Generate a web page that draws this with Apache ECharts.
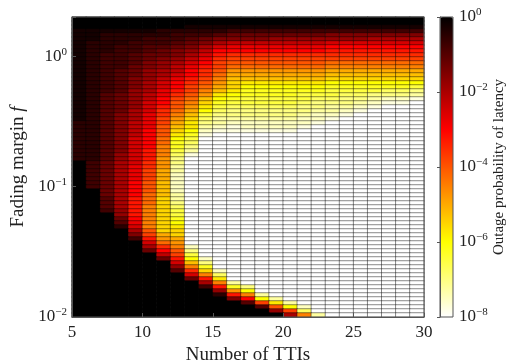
<!DOCTYPE html>
<html>
<head>
<meta charset="utf-8">
<script src="https://cdn.jsdelivr.net/npm/echarts@6/dist/echarts.min.js"></script>
<style>
    html, body { margin: 0; padding: 0; background: #fff; }
    #chart { width: 508px; height: 362px; }
</style>
</head>
<body>
<div id="chart"></div>
<script>
//横轴：TTI个数（每列一格）
var ttis = [5, 6, 7, 8, 9, 10, 11, 12, 13, 14, 15, 16, 17, 18, 19, 20, 21, 22, 23, 24, 25, 26, 27, 28, 29];

//纵轴：衰落余量f的范围（对数轴，行在对数上等距）
var fRange = [0.01, 2];

//色条范围：log10(中断概率)
var probRange = [-8, 0];

//每行一串字符，自上(f=2)而下(f=0.01)；每个字符 = -log10(p)*4，36进制（0 -> 1，w -> 1e-8）
//空格只用来分开前11列和后14列，方便核对
var outageRows = [
    "00000000000 00000000000000",
    "00000000000 00000000000000",
    "00000000111 11111111111111",
    "11111122222 33333333333333",
    "11222223334 55555556666666",
    "11222333456 66677777778888",
    "12223334568 9999999aaaaaaa",
    "1223344568a bbbbbbbccccccc",
    "1223345679c cccccccddddddd",
    "123345568ad eeeeeeeeeeeeee",
    "123345679be ffffffffffffff",
    "12334678acf ggggggghhhhhhh",
    "12335679bdf hhhhhhhiiiiiii",
    "12345789ceg jjjjjjjkkkkkkk",
    "1234578aceh kkkkkkklllllll",
    "1234679bdfi lllllllmmmmmmm",
    "123468acegj mnnnnnnooooooo",
    "123468acfhk mooooooppppppq",
    "123478bdfil nppppppqqqqrrs",
    "124579begjn oppppqqqrrssst",
    "124579cfhlo pqqqqqrrsstuuv",
    "12457acgimp qqqqqrssstuvvw",
    "12457adgjnq rrrrrssttuvwww",
    "12458aehkor ssssssttuvwwww",
    "12468beilqs ssssstuuvwwwww",
    "12468bfjmrt tttttuuvwwwwww",
    "22469bfknst uuuuuuvwwwwwww",
    "22469bglntu vuuuuvwwwwwwww",
    "22469cgmouv vvvvvwwwwwwwww",
    "22469cgnpvw wwwwwwwwwwwwww",
    "2246achoqww wwwwwwwwwwwwww",
    "2246achprww wwwwwwwwwwwwww",
    "2246acipsww wwwwwwwwwwwwww",
    "2246adiqtww wwwwwwwwwwwwww",
    "2247adirvww wwwwwwwwwwwwww",
    "2247adjswww wwwwwwwwwwwwww",
    "0358aejswww wwwwwwwwwwwwww",
    "0358bejtwww wwwwwwwwwwwwww",
    "0358bfktwww wwwwwwwwwwwwww",
    "0358bfkuwww wwwwwwwwwwwwww",
    "0358bfkuwww wwwwwwwwwwwwww",
    "0358cgluwww wwwwwwwwwwwwww",
    "0358cgluwww wwwwwwwwwwwwww",
    "0058cgluwww wwwwwwwwwwwwww",
    "0058chltwww wwwwwwwwwwwwww",
    "0048dhmtwww wwwwwwwwwwwwww",
    "0048dhmswww wwwwwwwwwwwwww",
    "0048dimrwww wwwwwwwwwwwwww",
    "0037dimqwww wwwwwwwwwwwwww",
    "0007dimqwww wwwwwwwwwwwwww",
    "0005cimpwww wwwwwwwwwwwwww",
    "0004bimowww wwwwwwwwwwwwww",
    "0002aimnwww wwwwwwwwwwwwww",
    "00008gmmwww wwwwwwwwwwwwww",
    "00006fkmwww wwwwwwwwwwwwww",
    "00003djkwww wwwwwwwwwwwwww",
    "00000ahjwww wwwwwwwwwwwwww",
    "000008eiuww wwwwwwwwwwwwww",
    "000005cgsww wwwwwwwwwwwwww",
    "0000009fqww wwwwwwwwwwwwww",
    "0000005douw wwwwwwwwwwwwww",
    "0000000alsw wwwwwwwwwwwwww",
    "00000007ipw wwwwwwwwwwwwww",
    "00000004emu wwwwwwwwwwwwww",
    "00000000air wwwwwwwwwwwwww",
    "000000005dn wwwwwwwwwwwwww",
    "0000000008i twwwwwwwwwwwww",
    "0000000003d pswwwwwwwwwwww",
    "00000000007 jowwwwwwwwwwww",
    "00000000002 ditwwwwwwwwwww",
    "00000000000 6cotwwwwwwwwww",
    "00000000000 04fntwwwwwwwww",
    "00000000000 004gouwwwwwwww",
    "00000000000 0007frwwwwwwww",
    "00000000000 00008itwwwwwww"
];

//反转的hot色图（白->黄->红->黑），9个等距色标
var hotColors = ['#ffffff', '#ffff80', '#ffff00', '#ffaa00', '#ff5500', '#ff0000', '#aa0000', '#550000', '#000000'];

var serif = 'Liberation Serif';
var textColor = '#222';
var frameColor = '#555';

//组装热力图数据 [列, 行, log10(p)]
var nRows = outageRows.length;
var rowIdx = [];
var cells = [];
for (var r = 0; r < nRows; r++) {
    rowIdx.push(r);
    var row = outageRows[r].replace(/ /g, '');
    for (var c = 0; c < ttis.length; c++) {
        cells.push([c, nRows - 1 - r, -parseInt(row.charAt(c), 36) / 4]);
    }
}

//10的幂次标签
function powLabel(e) {
    return '10{sup|' + String(e).replace('-', '\u2212') + '}';
}

var supRich = {
    sup: { fontSize: 11, fontFamily: serif, color: textColor, padding: [0, 0, 9, 0] }
};

var myChart = echarts.init(document.getElementById('chart'));

var option = {
    animation: false,
    grid: [
        { left: 72, top: 17, width: 352, height: 300, outerBoundsMode: 'none', show: true, z: 10, backgroundColor: 'transparent', borderColor: frameColor, borderWidth: 1 },
        { left: 440, top: 17, width: 13, height: 300, outerBoundsMode: 'none', show: true, z: 10, backgroundColor: 'transparent', borderColor: frameColor, borderWidth: 1 }
    ],
    xAxis: [
        { type: 'category', gridIndex: 0, data: ttis, show: false },
        {
            type: 'value', gridIndex: 0, min: 5, max: 30, interval: 5, position: 'bottom', z: 10,
            axisLine: { lineStyle: { color: frameColor } },
            axisTick: { inside: true, length: 4, lineStyle: { color: frameColor } },
            splitLine: { show: false },
            axisLabel: { fontFamily: serif, fontSize: 17, color: textColor, margin: 7 },
            name: 'Number of TTIs',
            nameLocation: 'middle',
            nameGap: 27,
            nameTextStyle: { fontFamily: serif, fontSize: 19, color: textColor }
        },
        { type: 'value', gridIndex: 1, min: 0, max: 1, show: false }
    ],
    yAxis: [
        { type: 'category', gridIndex: 0, data: rowIdx, show: false },
        {
            type: 'log', gridIndex: 0, logBase: 10, min: fRange[0], max: fRange[1], position: 'left', z: 10,
            axisLine: { lineStyle: { color: frameColor } },
            axisTick: { inside: true, length: 4, lineStyle: { color: frameColor } },
            splitLine: { show: false },
            axisLabel: {
                fontFamily: serif, fontSize: 17, color: textColor, margin: 5, rich: supRich,
                formatter: function (v) {
                    var e = Math.round(Math.log10(v));
                    return Math.abs(Math.log10(v) - e) < 1e-6 ? powLabel(e) : '';
                }
            },
            name: 'Fading margin {i|f}',
            nameLocation: 'middle',
            nameRotate: 90,
            nameGap: 36,
            nameTextStyle: {
                fontFamily: serif, fontSize: 19, color: textColor,
                rich: { i: { fontFamily: serif, fontSize: 19, fontStyle: 'italic', color: textColor } }
            }
        },
        {
            type: 'value', gridIndex: 1, min: probRange[0], max: probRange[1], interval: 2, position: 'right', z: 10,
            axisLine: { lineStyle: { color: frameColor } },
            axisTick: { inside: true, length: 3, lineStyle: { color: frameColor } },
            splitLine: { show: false },
            axisLabel: {
                fontFamily: serif, fontSize: 17, color: textColor, margin: 6, rich: supRich,
                formatter: function (v) { return powLabel(v); }
            },
            name: 'Outage probability of latency',
            nameLocation: 'middle',
            nameRotate: 90,
            nameGap: 38,
            nameTextStyle: { fontFamily: serif, fontSize: 15, color: textColor }
        }
    ],
    visualMap: {
        type: 'continuous',
        seriesIndex: 0,
        dimension: 2,
        min: probRange[0],
        max: probRange[1],
        orient: 'vertical',
        left: 440,
        top: 17,
        itemWidth: 13,
        itemHeight: 300,
        padding: 0,
        text: null,
        calculable: false,
        hoverLink: false,
        inRange: { color: hotColors }
    },
    series: [{
        type: 'heatmap',
        xAxisIndex: 0,
        yAxisIndex: 0,
        data: cells,
        progressive: 0,
        itemStyle: { borderColor: 'rgba(0,0,0,0.7)', borderWidth: 0.6 },
        emphasis: { disabled: true }
    }]
};

myChart.setOption(option);
</script>
</body>
</html>
